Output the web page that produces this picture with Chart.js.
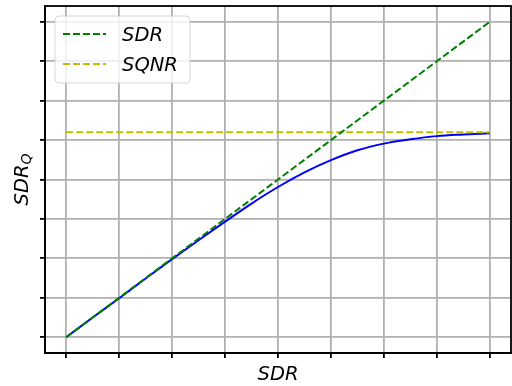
<!DOCTYPE html>
<html>
<head>
<meta charset="utf-8">
<script src="https://cdn.jsdelivr.net/npm/chart.js@4.4.1/dist/chart.umd.min.js"></script>
<style>
    html, body { margin: 0; padding: 0; background: #ffffff; }
    #chart { display: block; }
</style>
</head>
<body>
<canvas id="chart" width="512" height="386"></canvas>
<script>
// Values in tick units (axes carry no numbers)
const xTicks = [0, 1, 2, 3, 4, 5, 6, 7, 8];
const yTicks = [0, 1, 2, 3, 4, 5, 6, 7, 8];

const sdrAxis = [0, 0.5, 1, 1.5, 2, 2.5, 3, 3.5, 4, 4.5, 5, 5.5, 6, 6.5, 7, 7.5, 8];
const sdrqValues = [0.00, 0.50, 0.99, 1.49, 1.98, 2.46, 2.93, 3.39, 3.81, 4.18, 4.49, 4.74, 4.91, 5.02, 5.10, 5.14, 5.17];

const sdrLineX = [0, 8];
const sdrLineY = [0, 8];
const sqnrLineX = [0, 8];
const sqnrLineY = [5.2, 5.2];

const labels = { sdr: "SDR", sqnr: "SQNR", yMain: "SDR", ySub: "Q", x: "SDR" };

const FONT = "'DejaVu Sans', sans-serif";

function pairs(xs, ys) {
    return xs.map((x, i) => ({ x: x, y: ys[i] }));
}

// Frame on top/right + axis titles + matplotlib-like legend
const decorPlugin = {
    id: "decor",
    afterDraw(chart) {
        const ctx = chart.ctx;
        const a = chart.chartArea;
        ctx.save();

        // full frame
        ctx.strokeStyle = "#000000";
        ctx.lineWidth = 1.8;
        ctx.strokeRect(a.left, a.top, a.right - a.left, a.bottom - a.top);

        // x title
        ctx.fillStyle = "#000000";
        ctx.font = "italic 19.5px " + FONT;
        ctx.textAlign = "center";
        ctx.textBaseline = "alphabetic";
        ctx.fillText(labels.x, (a.left + a.right) / 2, 380);

        // y title with subscript
        ctx.save();
        ctx.translate(28, (a.top + a.bottom) / 2);
        ctx.rotate(-Math.PI / 2);
        ctx.font = "italic 19.5px " + FONT;
        const wMain = ctx.measureText(labels.yMain).width;
        ctx.font = "italic 14px " + FONT;
        const wSub = ctx.measureText(labels.ySub).width;
        const start = -(wMain + wSub) / 2;
        ctx.textAlign = "left";
        ctx.font = "italic 19.5px " + FONT;
        ctx.fillText(labels.yMain, start, 0);
        ctx.font = "italic 14px " + FONT;
        ctx.fillText(labels.ySub, start + wMain, 3);
        ctx.restore();

        // legend
        const items = chart.data.datasets.filter(d => d.inLegend);
        const bx = 55, by = 16, bw = 135, bh = 67, r = 4;
        ctx.beginPath();
        ctx.moveTo(bx + r, by);
        ctx.arcTo(bx + bw, by, bx + bw, by + bh, r);
        ctx.arcTo(bx + bw, by + bh, bx, by + bh, r);
        ctx.arcTo(bx, by + bh, bx, by, r);
        ctx.arcTo(bx, by, bx + bw, by, r);
        ctx.closePath();
        ctx.fillStyle = "rgba(255,255,255,0.8)";
        ctx.fill();
        ctx.strokeStyle = "rgba(204,204,204,0.8)";
        ctx.lineWidth = 1;
        ctx.stroke();

        items.forEach((d, i) => {
            const yy = 34 + i * 30;
            ctx.beginPath();
            ctx.setLineDash(d.borderDash || []);
            ctx.strokeStyle = d.borderColor;
            ctx.lineWidth = d.borderWidth;
            ctx.moveTo(63, yy);
            ctx.lineTo(106, yy);
            ctx.stroke();
            ctx.setLineDash([]);
            ctx.fillStyle = "#000000";
            ctx.font = "italic 19.5px " + FONT;
            ctx.textAlign = "left";
            ctx.fillText(d.label, 122, yy + 7);
        });

        ctx.restore();
    }
};

const axisCommon = {
    type: "linear",
    grid: {
        color: "#b0b0b0",
        lineWidth: 1.8,
        drawTicks: true,
        tickLength: 5,
        tickColor: "#000000",
        tickWidth: 1.8
    },
    border: { display: true, color: "#000000", width: 1.8 },
    ticks: { display: false }
};

new Chart(document.getElementById("chart").getContext("2d"), {
    type: "line",
    data: {
        datasets: [
            {
                label: labels.sdr,
                inLegend: true,
                data: pairs(sdrLineX, sdrLineY),
                borderColor: "#008000",
                borderWidth: 2,
                borderDash: [7, 3],
                pointRadius: 0,
                tension: 0
            },
            {
                label: labels.sqnr,
                inLegend: true,
                data: pairs(sqnrLineX, sqnrLineY),
                borderColor: "#bfbf00",
                borderWidth: 2,
                borderDash: [7, 3],
                pointRadius: 0,
                tension: 0
            },
            {
                label: "SDR_Q",
                inLegend: false,
                data: pairs(sdrAxis, sdrqValues),
                borderColor: "#0000ff",
                borderWidth: 2,
                pointRadius: 0,
                cubicInterpolationMode: "monotone"
            }
        ]
    },
    options: {
        responsive: false,
        animation: false,
        layout: { padding: { left: 0, right: 1, top: 6, bottom: 0 } },
        plugins: {
            legend: { display: false },
            tooltip: { enabled: false }
        },
        scales: {
            x: Object.assign({}, axisCommon, {
                min: -0.4,
                max: 8.4,
                afterBuildTicks: s => { s.ticks = xTicks.map(v => ({ value: v })); },
                afterFit: s => { s.height = 33; }
            }),
            y: Object.assign({}, axisCommon, {
                min: -0.4,
                max: 8.4,
                afterBuildTicks: s => { s.ticks = yTicks.map(v => ({ value: v })); },
                afterFit: s => { s.width = 45; }
            })
        }
    },
    plugins: [decorPlugin]
});
</script>
</body>
</html>
